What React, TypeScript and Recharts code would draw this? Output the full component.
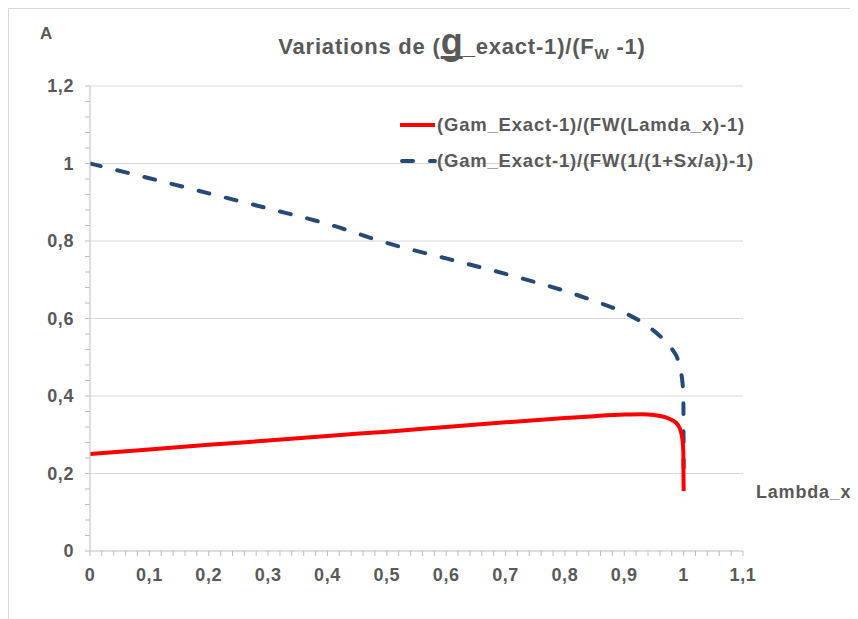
import React from 'react';
import { LineChart, Line, XAxis, YAxis, ReferenceLine } from 'recharts';

const lambdaX = [0, 0.1, 0.2, 0.3, 0.4, 0.5, 0.6, 0.7, 0.8, 0.85, 0.9, 0.93, 0.95, 0.97, 0.98, 0.99, 0.995, 0.998, 0.9995, 1];
const gamFWLambda = [0.25, 0.262, 0.274, 0.285, 0.297, 0.308, 0.32, 0.332, 0.343, 0.348, 0.352, 0.353, 0.351, 0.345, 0.338, 0.326, 0.31, 0.287, 0.255, 0.155];
const gamFWSx = [1.0, 0.962, 0.923, 0.884, 0.844, 0.795, 0.755, 0.715, 0.671, 0.645, 0.615, 0.59, 0.568, 0.54, 0.522, 0.495, 0.465, 0.435, 0.4, 0.215];

const xMajorTicks = [0, 0.1, 0.2, 0.3, 0.4, 0.5, 0.6, 0.7, 0.8, 0.9, 1, 1.1];
const yMajorTicks = [0, 0.2, 0.4, 0.6, 0.8, 1, 1.2];

const seriesNames = ['(Gam_Exact-1)/(FW(Lamda_x)-1)', '(Gam_Exact-1)/(FW(1/(1+Sx/a))-1)'];

const data = lambdaX.map((x, i) => ({ x, red: gamFWLambda[i], blue: gamFWSx[i] }));

// minor tick positions (subdivisions of major ticks)
const xTicks: number[] = [];
for (let i = 0; i < xMajorTicks.length - 1; i++) {
  for (let k = 0; k < 5; k++) xTicks.push(+(xMajorTicks[i] + (k * (xMajorTicks[i + 1] - xMajorTicks[i])) / 5).toFixed(3));
}
xTicks.push(xMajorTicks[xMajorTicks.length - 1]);
const yTicks: number[] = [];
for (let i = 0; i < yMajorTicks.length - 1; i++) {
  for (let k = 0; k < 5; k++) yTicks.push(+(yMajorTicks[i] + (k * (yMajorTicks[i + 1] - yMajorTicks[i])) / 5).toFixed(3));
}
yTicks.push(yMajorTicks[yMajorTicks.length - 1]);

const isMajor = (v: number, list: number[]) => list.some((m) => Math.abs(m - v) < 1e-6);
const fmt = (v: number) => String(+v.toFixed(2)).replace('.', ',');

const FONT = '"Liberation Sans", Arial, Helvetica, sans-serif';
const TXT = '#595959';
const AXIS = '#bfbfbf';
const RED = '#ff0000';
const BLUE = '#254a78';

const XTick = (props: any) => {
  const { x, y, payload } = props;
  if (!isMajor(payload.value, xMajorTicks)) return <g />;
  return (
    <text x={x} y={y} dy="0.71em" textAnchor="middle" fill={TXT} fontSize={18} fontWeight={700} fontFamily={FONT} letterSpacing={0.6}>
      {fmt(payload.value)}
    </text>
  );
};
const YTick = (props: any) => {
  const { x, y, payload } = props;
  if (!isMajor(payload.value, yMajorTicks)) return <g />;
  return (
    <text x={x} y={y} dy="0.36em" textAnchor="end" fill={TXT} fontSize={18} fontWeight={700} fontFamily={FONT} letterSpacing={0.6}>
      {fmt(payload.value)}
    </text>
  );
};

export default function App() {
  return (
    <div style={{ position: 'relative', width: 850, height: 611, fontFamily: FONT }}>
      <div style={{ position: 'absolute', left: 0, top: 0, width: 850, height: 611, borderTop: '1px solid #d9d9d9', borderLeft: '1px solid #d9d9d9', boxSizing: 'border-box' }} />
      <LineChart width={850} height={611} data={data} margin={{ top: 78, right: 115, bottom: 28, left: 22 }}>
        {yMajorTicks.filter((v) => v > 0).map((v) => (
          <ReferenceLine key={v} y={v} stroke="#d9d9d9" strokeWidth={1} ifOverflow="visible" />
        ))}
        <XAxis
          type="number"
          dataKey="x"
          domain={[0, 1.1]}
          ticks={xTicks}
          interval={0}
          height={40}
          tickSize={5}
          tickMargin={12}
          stroke={AXIS}
          tickLine={{ stroke: AXIS }}
          tick={XTick}
          allowDataOverflow
        />
        <YAxis
          type="number"
          domain={[0, 1.2]}
          ticks={yTicks}
          interval={0}
          width={60}
          tickSize={5}
          tickMargin={11}
          stroke={AXIS}
          tickLine={{ stroke: AXIS }}
          tick={YTick}
          allowDataOverflow
        />
        <Line type="monotone" dataKey="blue" stroke={BLUE} strokeWidth={4} strokeDasharray="11 17" strokeLinecap="round" dot={false} isAnimationActive={false} />
        <Line type="monotone" dataKey="red" stroke={RED} strokeWidth={4} dot={false} isAnimationActive={false} />
      </LineChart>

      <div style={{ position: 'absolute', left: 32, top: 16, fontSize: 17, fontWeight: 700, color: TXT }}>A</div>
      <div style={{ position: 'absolute', left: 454, top: 16, transform: 'translateX(-50%)', whiteSpace: 'nowrap', fontSize: 22, fontWeight: 700, color: TXT, lineHeight: '36px', letterSpacing: 0.8 }}>
        Variations de (<span style={{ fontSize: 36, textDecoration: 'underline', textDecorationSkipInk: 'none', letterSpacing: 0 }}>g</span>_exact-1)/(F<sub style={{ fontSize: 15 }}>W</sub> -1)
      </div>
      <div style={{ position: 'absolute', left: 748, top: 474, fontSize: 18, fontWeight: 700, color: TXT, letterSpacing: 0.8 }}>Lambda_x</div>

      <div style={{ position: 'absolute', left: 390, top: 99, fontSize: 18.5, fontWeight: 700, color: TXT, letterSpacing: 0.8 }}>
        <div style={{ display: 'flex', alignItems: 'center', height: 36 }}>
          <svg width={39} height={10}><line x1={2} y1={5} x2={37} y2={5} stroke={RED} strokeWidth={4} /></svg>
          <span>{seriesNames[0]}</span>
        </div>
        <div style={{ display: 'flex', alignItems: 'center', height: 36 }}>
          <svg width={39} height={10}><line x1={4} y1={5} x2={37} y2={5} stroke={BLUE} strokeWidth={4} strokeDasharray="11 17" strokeLinecap="round" /></svg>
          <span>{seriesNames[1]}</span>
        </div>
      </div>
    </div>
  );
}
